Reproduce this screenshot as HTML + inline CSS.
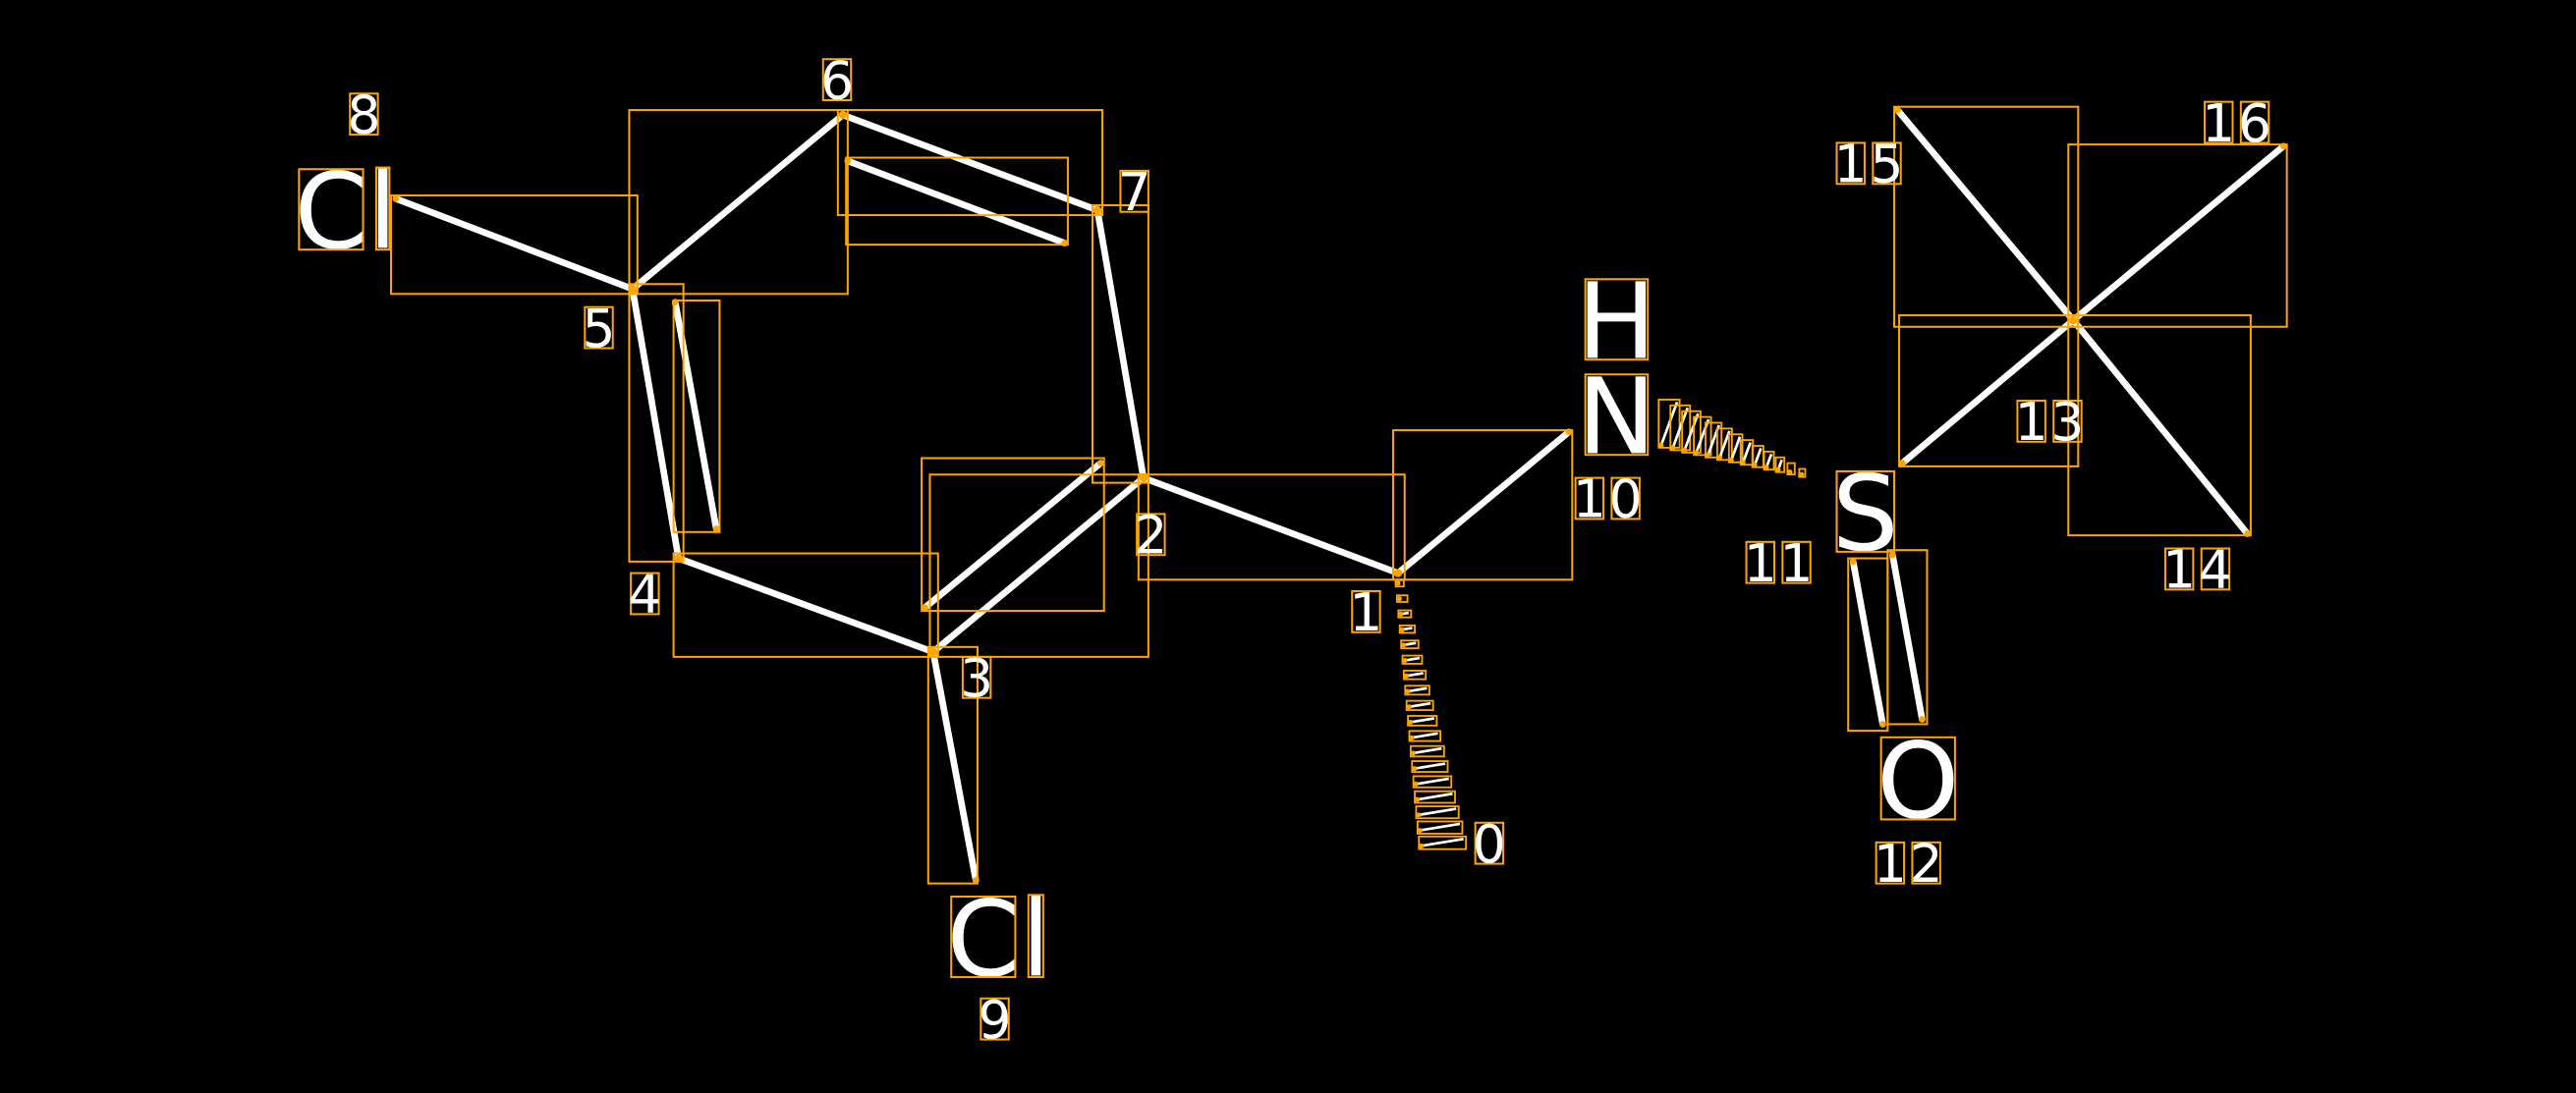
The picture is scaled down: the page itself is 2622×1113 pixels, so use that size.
<!DOCTYPE html>
<html><head><meta charset="utf-8"><style>
html,body{margin:0;padding:0;background:#000;}
svg{display:block}
text{font-family:"DejaVu Sans","Liberation Sans",sans-serif;fill:#fff;text-anchor:middle}
.b{stroke:#fff;stroke-width:4;stroke-linecap:round}
.r{fill:none;stroke:#FFA500;stroke-width:1.2}
.d{fill:#FFA500}
</style></head><body>
<svg id="s" width="2622" height="1113" viewBox="0 0 1568 665.6" xmlns="http://www.w3.org/2000/svg">
<rect x="0" y="0" width="1568" height="665.6" fill="#000"/>
<!-- bonds -->
<g>
<line class="b" x1="385" y1="176" x2="241" y2="121"/>
<line class="b" x1="385" y1="176" x2="513" y2="70"/>
<line class="b" x1="513" y1="70" x2="668" y2="128"/>
<line class="b" x1="516" y1="98" x2="648" y2="148"/>
<line class="b" x1="668" y1="128" x2="696" y2="291"/>
<line class="b" x1="385" y1="176" x2="413" y2="340"/>
<line class="b" x1="411" y1="184" x2="436" y2="322"/>
<line class="b" x1="696" y1="291" x2="568" y2="397"/>
<line class="b" x1="563" y1="370" x2="670" y2="282"/>
<line class="b" x1="413" y1="340" x2="568" y2="397"/>
<line class="b" x1="568" y1="397" x2="594" y2="536"/>
<line class="b" x1="696" y1="291" x2="851" y2="349"/>
<line class="b" x1="851" y1="349" x2="955" y2="263"/>
<line class="b" x1="1128" y1="342" x2="1146" y2="441"/>
<line class="b" x1="1152" y1="338" x2="1170" y2="438"/>
<line class="b" x1="1262" y1="195" x2="1155" y2="67"/>
<line class="b" x1="1262" y1="195" x2="1390" y2="89"/>
<line class="b" x1="1262" y1="195" x2="1158" y2="282"/>
<line class="b" x1="1262" y1="195" x2="1368" y2="325"/>
</g>
<!-- bond boxes -->
<g>
<rect class="r" x="238" y="119" width="150" height="60"/>
<rect class="r" x="383" y="67" width="133" height="112"/>
<rect class="r" x="510" y="67" width="161" height="64"/>
<rect class="r" x="515" y="96" width="135" height="53"/>
<rect class="r" x="665" y="125" width="34" height="169"/>
<rect class="r" x="383" y="173" width="33" height="169"/>
<rect class="r" x="410" y="183" width="28" height="141"/>
<rect class="r" x="566" y="289" width="133" height="111"/>
<rect class="r" x="561" y="279" width="111" height="93"/>
<rect class="r" x="410" y="337" width="161" height="63"/>
<rect class="r" x="565" y="394" width="30" height="144"/>
<rect class="r" x="693" y="289" width="162" height="64"/>
<rect class="r" x="848" y="262" width="109" height="91"/>
<rect class="r" x="1125" y="340" width="24" height="105"/>
<rect class="r" x="1149" y="335" width="24" height="106"/>
<rect class="r" x="1153" y="65" width="112" height="134"/>
<rect class="r" x="1259" y="88" width="133" height="111"/>
<rect class="r" x="1156" y="192" width="109" height="92"/>
<rect class="r" x="1259" y="192" width="111" height="134"/>
</g>
<!-- dots -->
<g class="d">
<circle cx="385" cy="176" r="2.5"/><circle cx="513" cy="70" r="2.5"/><circle cx="668" cy="128" r="2.5"/>
<circle cx="696" cy="291" r="2.5"/><circle cx="568" cy="397" r="2.5"/><circle cx="413" cy="340" r="2.5"/>
<circle cx="851" cy="349" r="2.5"/><circle cx="955" cy="263" r="2"/><circle cx="241" cy="121" r="2"/>
<circle cx="594" cy="536" r="2"/><circle cx="516" cy="98" r="2"/><circle cx="648" cy="148" r="2"/>
<circle cx="411" cy="184" r="2"/><circle cx="436" cy="322" r="2"/><circle cx="563" cy="370" r="2"/><circle cx="670" cy="282" r="2"/>
<circle cx="1128" cy="342" r="2"/><circle cx="1146" cy="441" r="2"/><circle cx="1152" cy="338" r="2"/><circle cx="1170" cy="438" r="2"/>
<circle cx="1262" cy="195" r="2.5"/><circle cx="1155" cy="67" r="2"/><circle cx="1390" cy="89" r="2"/><circle cx="1158" cy="282" r="2"/><circle cx="1368" cy="325" r="2"/>
</g>
<g id="hash"></g>
<!-- big atom labels -->
<g font-size="64">
<text x="201.5" y="151">C</text><rect class="r" x="182" y="103" width="39" height="49"/>
<text x="233" y="151">l</text><rect class="r" x="229" y="102" width="8" height="50"/>
<text x="598.5" y="594">C</text><rect class="r" x="579" y="546" width="39" height="49"/>
<text x="630.5" y="594">l</text><rect class="r" x="626" y="545" width="9" height="50"/>
<text x="984" y="218">H</text><rect class="r" x="965" y="170" width="38" height="49"/>
<text x="984" y="276">N</text><rect class="r" x="965" y="228" width="38" height="49"/>
<text x="1135.5" y="335">S</text><rect class="r" x="1118" y="287" width="35" height="49"/>
<text x="1167.5" y="498">O</text><rect class="r" x="1145" y="449" width="45" height="50"/>
</g>
<!-- index labels -->
<g font-size="32" id="nums"></g>
</svg>
<script>
(function(){
var NS="http://www.w3.org/2000/svg";
function el(p,n,a){var e=document.createElementNS(NS,n);for(var k in a)e.setAttribute(k,a[k]);p.appendChild(e);return e;}
var h=document.getElementById("hash");
// wedge 1 -> 0
var N=18;
for(var i=0;i<N;i++){var t=i/(N-1);var cx=852+26*t,cy=355+158*t,w=1+12*t;
var dx=w*0.987,dy=w*0.162;
if(w>2)el(h,"line",{x1:cx-dx,y1:cy+dy,x2:cx+dx,y2:cy-dy,stroke:"#fff","stroke-width":1.6});
el(h,"rect",{x:cx-dx-1.5,y:cy-dy-1.5,width:2*dx+3,height:2*dy+3.5,fill:"none",stroke:"#FFA500","stroke-width":1.1});
el(h,"circle",{cx:cx-dx,cy:cy+dy,r:1.5,fill:"#FFA500"});}
// wedge N -> S
var M=13;
for(var i=0;i<M;i++){var t=i/(M-1);var cx=1016+81*t,cy=258+30*t,w=13*(1-t)+1;
var dx=w*0.347,dy=w*0.938;
if(w>2.5)el(h,"line",{x1:cx-dx,y1:cy+dy,x2:cx+dx,y2:cy-dy,stroke:"#fff","stroke-width":1.6});
el(h,"rect",{x:cx-dx-1.5,y:cy-dy-1.5,width:2*dx+3,height:2*dy+3,fill:"none",stroke:"#FFA500","stroke-width":1.1});
el(h,"circle",{cx:cx-dx,cy:cy+dy,r:1.5,fill:"#FFA500"});}
})();
</script>
<svg width="0" height="0"></svg>
<script>
(function(){
var NS="http://www.w3.org/2000/svg";
var g=document.getElementById("nums");
var L=[["8",213,57],["6",501,36],["7",682,104],["5",356,187],["4",384,349],["2",692,313],["3",586,400],["1",823,360],["0",898,501],["9",597,608],
["1",959,291],["0",981,291],["1",1063,330],["1",1085,330],["1",1142,513],["2",1164,513],["1",1228,244],["3",1250,244],
["1",1318,334],["4",1340,334],["1",1118,87],["5",1140,87],["1",1342,62],["6",1364,62]];
L.forEach(function(a){
var r=document.createElementNS(NS,"rect");r.setAttribute("class","r");r.setAttribute("x",a[1]);r.setAttribute("y",a[2]);r.setAttribute("width",17);r.setAttribute("height",25);g.appendChild(r);
});
})();
</script>
<div style="display:none"></div>
<svg width="2622" height="1113" viewBox="0 0 1568 665.6" style="position:absolute;left:0;top:0" xmlns="http://www.w3.org/2000/svg">
<g font-size="32" font-family="DejaVu Sans, Liberation Sans, sans-serif" fill="#fff" text-anchor="middle">
<text x="221.5" y="81">8</text><text x="509.5" y="60">6</text><text x="690.5" y="128">7</text><text x="364.5" y="211">5</text>
<text x="392.5" y="373">4</text><text x="700.5" y="337">2</text><text x="594.5" y="424">3</text><text x="831.5" y="384">1</text>
<text x="906.5" y="525">0</text><text x="605.5" y="632">9</text>
<text x="967.5" y="315">1</text><text x="989.5" y="315">0</text>
<text x="1071.5" y="354">1</text><text x="1093.5" y="354">1</text>
<text x="1150.5" y="537">1</text><text x="1172.5" y="537">2</text>
<text x="1236.5" y="268">1</text><text x="1258.5" y="268">3</text>
<text x="1326.5" y="358">1</text><text x="1348.5" y="358">4</text>
<text x="1126.5" y="111">1</text><text x="1148.5" y="111">5</text>
<text x="1350.5" y="86">1</text><text x="1372.5" y="86">6</text>
</g>
</svg>
</body></html>
